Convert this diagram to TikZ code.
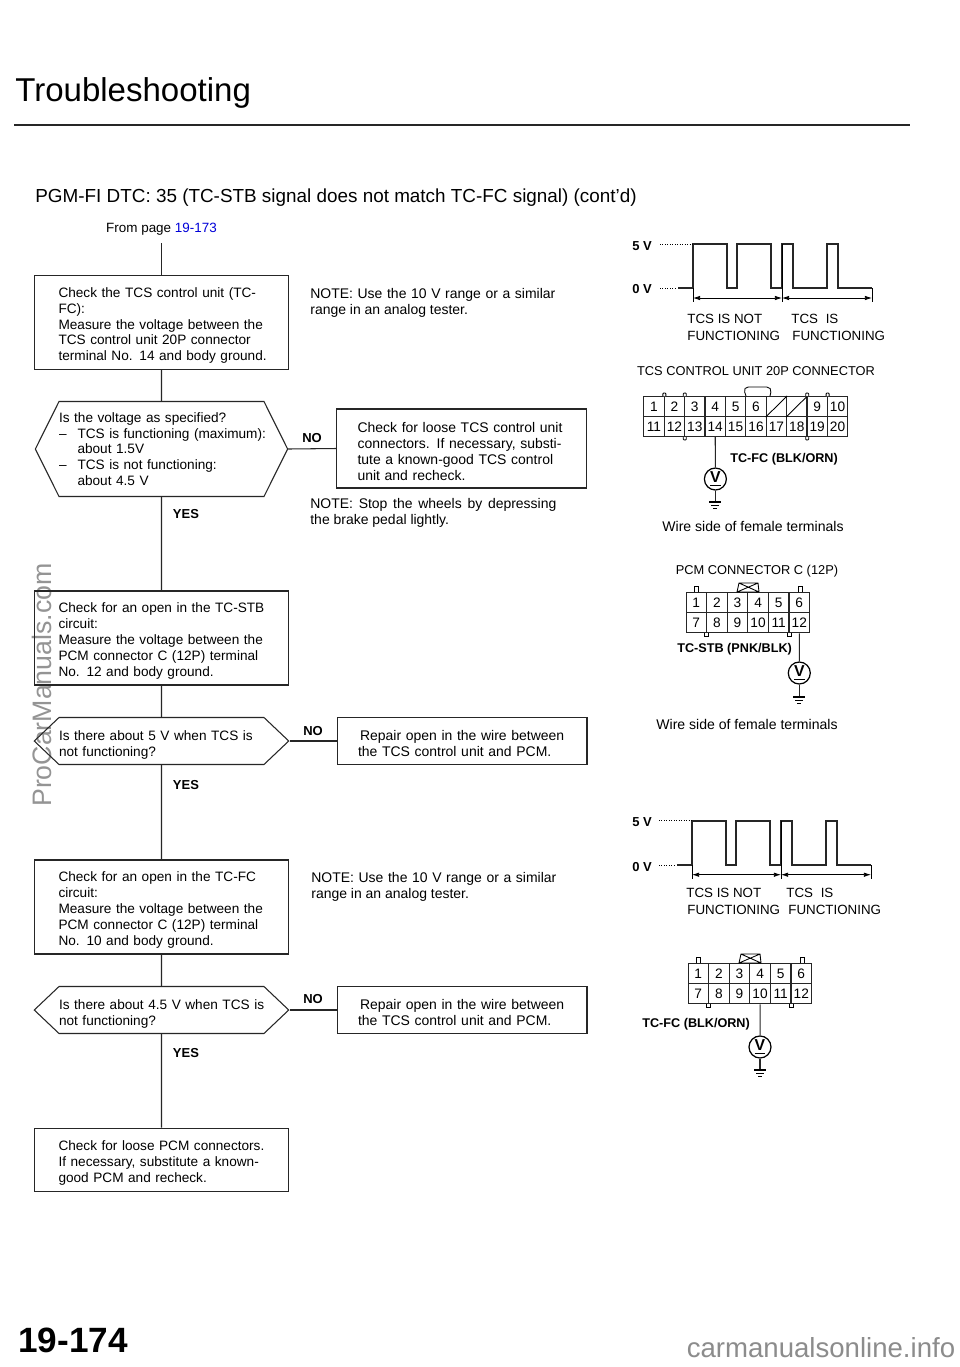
\documentclass[tikz,border=0pt]{standalone}
\usepackage{fontspec}
\setmainfont{Liberation Sans}
\usepackage{tikz}
\usetikzlibrary{shapes.symbols, arrows.meta, positioning}
\newcommand{\bodyfont}{\fontsize{7.75}{9}\selectfont}
\newlength{\pxu}
\setlength{\pxu}{0.02cm}
\newcommand{\jline}[2]{\makebox[#1\pxu][s]{#2}}
\tikzset{
  flowline/.style={line width=0.6pt, black!85},
  leftbox/.style={rectangle, draw=black!85, line width=0.6pt, text width=4.12cm,
                  inner xsep=0.48cm, inner ysep=0pt, minimum height=1.88cm,
                  align=left, font=\bodyfont,
                  execute at begin node={\rule{0pt}{9pt}}},
  rightbox/.style={rectangle, draw=black!85, line width=0.6pt, text width=4.16cm,
                   inner xsep=0.42cm, inner ysep=0pt, minimum height=0.95cm,
                   align=left, font=\fontsize{7.95}{9}\selectfont,
                   execute at begin node={\rule{0pt}{9pt}}},
  askhex/.style={signal, signal to=west and east, draw=black!85, line width=0.6pt,
                 text width=4.1cm, inner xsep=0pt, inner ysep=0pt, minimum height=0.94cm,
                 signal pointer angle=87, align=left, font=\bodyfont},
  notetext/.style={anchor=north west, inner sep=0pt, align=left, font=\fontsize{7.95}{9}\selectfont},
  branchtag/.style={inner sep=0pt, font=\fontsize{7.4}{9}\selectfont\bfseries},
  pincell/.style={rectangle, draw=black!85, line width=0.55pt, minimum width=0.41cm,
                  minimum height=0.405cm, inner sep=0pt, font=\fontsize{7.8}{9}\selectfont},
  meter/.style={circle, draw=black, line width=0.7pt, minimum size=0.44cm, inner sep=0pt,
                font=\fontsize{9}{9}\selectfont\bfseries},
  wavetext/.style={anchor=west, inner sep=0pt, font=\fontsize{7.6}{9}\selectfont},
  wiretag/.style={inner sep=0pt, font=\fontsize{7.2}{9}\selectfont\bfseries},
  grd/.pic={
    \draw[line width=0.6pt] (-6,0) -- (6,0);
    \draw[line width=0.5pt] (-4,3) -- (4,3);
    \draw[line width=0.4pt] (-2,6) -- (2,6);
  },
  pulses/.pic={
    \draw[line width=0.95pt, black!85] (-15,44.3) -- (0,44.3) -- (0,0) -- (34,0) -- (34,44.3)
      -- (44,44.3) -- (44,0) -- (78,0) -- (78,44.3) -- (89,44.3) -- (89,0) -- (100,0)
      -- (100,44.3) -- (134,44.3) -- (134,0) -- (145,0) -- (145,44.3) -- (179,44.3);
    \draw[line width=0.4pt] (0,44.3) -- (0,58);
    \draw[line width=0.4pt] (89,0) -- (89,58);
    \draw[line width=0.4pt] (179,44.3) -- (179,58);
    \draw[line width=0.4pt, {Latex[length=4pt,width=2.5pt]}-{Latex[length=4pt,width=2.5pt]}] (0,54) -- (89,54);
    \draw[line width=0.4pt, {Latex[length=4pt,width=2.5pt]}-{Latex[length=4pt,width=2.5pt]}] (89,54) -- (179,54);
    \draw[line width=0.4pt, densely dotted] (-33,0) -- (-1,0);
    \draw[line width=0.4pt, densely dotted] (-33,44.3) -- (-16,44.3);
  },
}
\begin{document}
\begin{tikzpicture}[x=0.02cm, y=-0.02cm]
  \useasboundingbox[fill=white] (0,0) rectangle (960,1367);

  % watermarks
  \node[rotate=90, inner sep=0pt, text=black!42, font=\fontsize{15.2}{16}\selectfont] (wmleft) at (42,685) {ProCarManuals.com};
  \node[inner sep=0pt, text=black!45, font=\fontsize{15.7}{16}\selectfont] (wmright) at (821,1348) {carmanualsonline.info};

  % page heading
  \node[anchor=west, inner sep=0pt, font=\fontsize{18.8}{22}\selectfont] (heading) at (15,93) {Troubleshooting};
  \draw[line width=1.4pt, black!85] (14,125) -- (910,125);
  \node[anchor=west, inner sep=0pt, font=\fontsize{10.75}{14}\selectfont] (subhead) at (35,198)
    {PGM-FI DTC: 35 (TC-STB signal does not match TC-FC signal) (cont'd)};
  \node[inner sep=0pt, font=\fontsize{7.65}{9}\selectfont] (frompage) at (161.5,229) {From page \textcolor{blue!85!black}{19-173}};
  \coordinate (start) at (161.5,243);

  % left column
  \node[leftbox] (chkfc) at (161.5,322.5)
    {\jline{206}{Check the TCS control unit (TC-}\\FC):\\\jline{206}{Measure the voltage between the}\\\jline{206}{TCS control unit 20P connector}\\\jline{206}{terminal No. 14 and body ground.}};
  \node[askhex, minimum height=1.9cm, signal pointer angle=127] (askv) at (161.5,449)
    {Is the voltage as specified?\\
     \makebox[0.37cm][l]{--}\jline{187}{TCS is functioning (maximum):}\\
     \hspace{0.37cm}about 1.5V\\
     \makebox[0.37cm][l]{--}TCS is not functioning:\\
     \hspace{0.37cm}about 4.5 V};
  \node[leftbox] (chkstb) at (161.5,638)
    {\jline{206}{Check for an open in the TC-STB}\\circuit:\\\jline{206}{Measure the voltage between the}\\\jline{206}{PCM connector C (12P) terminal}\\No. 12 and body ground.};
  \node[askhex] (askstb) at (161.5,741)
    {\rule{0pt}{10pt}\jline{189}{Is there about 5 V when TCS is}\\not functioning?};
  \node[leftbox] (chkfcopen) at (161.5,907)
    {\jline{206}{Check for an open in the TC-FC}\\circuit:\\\jline{206}{Measure the voltage between the}\\\jline{206}{PCM connector C (12P) terminal}\\No. 10 and body ground.};
  \node[askhex] (askfc) at (161.5,1010)
    {\rule{0pt}{10pt}\jline{200}{Is there about 4.5 V when TCS is}\\not functioning?};
  \node[leftbox, minimum height=1.27cm] (chkpcm) at (161.5,1160)
    {\jline{206}{Check for loose PCM connectors.}\\\jline{204}{If necessary, substitute a known-}\\good PCM and recheck.};

  % right column
  \node[rightbox, minimum height=1.58cm] (fixloose) at (461.5,448.5)
    {\jline{208}{Check for loose TCS control unit}\\\jline{208}{connectors. If necessary, substi-}\\\jline{208}{tute a known-good TCS control}\\unit and recheck.};
  \node[rightbox] (fixstb) at (462,741)
    {\hspace{0.04cm}Repair open in the wire between\\\jline{190}{the TCS control unit and PCM.}};
  \node[rightbox] (fixfc) at (462,1010)
    {\hspace{0.04cm}Repair open in the wire between\\\jline{190}{the TCS control unit and PCM.}};

  \node[notetext] (note1) at (310,288) {\jline{245}{NOTE: Use the 10 V range or a similar}\\range in an analog tester.};
  \node[notetext] (note2) at (310,498) {\jline{246}{NOTE: Stop the wheels by depressing}\\the brake pedal lightly.};
  \node[notetext] (note3) at (311,872) {\jline{245}{NOTE: Use the 10 V range or a similar}\\range in an analog tester.};

  \draw[flowline] (start) -- (chkfc);
  \draw[flowline] (chkfc) -- (askv);
  \draw[flowline] (askv) -- (chkstb);
  \draw[flowline] (chkstb) -- (askstb);
  \draw[flowline] (askstb) -- (chkfcopen);
  \draw[flowline] (chkfcopen) -- (askfc);
  \draw[flowline] (askfc) -- (chkpcm);
  \draw[flowline] (askv.east) -- (fixloose.west);
  \draw[flowline] (askstb.east) -- (fixstb.west);
  \draw[flowline] (askfc.east) -- (fixfc.west);

  \node[branchtag] (no1) at (312,438) {NO};
  \node[branchtag] (no2) at (313,731) {NO};
  \node[branchtag] (no3) at (313,999) {NO};
  \node[branchtag] (yes1) at (186,514) {YES};
  \node[branchtag] (yes2) at (186,785) {YES};
  \node[branchtag] (yes3) at (186,1053) {YES};

  % first waveform
  \pic at (693,244) {pulses};
  \node[branchtag, anchor=west] (fivea) at (632,246) {5 V};
  \node[branchtag, anchor=west] (zeroa) at (632,289) {0 V};
  \node[wavetext] (offa) at (687,319) {TCS IS NOT};
  \node[wavetext] (offb) at (687,336) {FUNCTIONING};
  \node[wavetext] (ona) at (791,319) {TCS\hspace{0.08cm} IS};
  \node[wavetext] (onb) at (792,336) {FUNCTIONING};
  \node[inner sep=0pt, font=\fontsize{7.3}{9}\selectfont] (tcsname) at (756,371) {TCS CONTROL UNIT 20P CONNECTOR};

  % 20P connector
  \foreach \lbl [count=\i from 0] in {1,2,3,4,5,6,{},{},9,10}
    \node[pincell] (a\lbl-\i) at ({654+20.4*\i},406.5) {\lbl};
  \foreach \lbl [count=\i from 0] in {11,12,13,14,15,16,17,18,19,20}
    \node[pincell] (a\lbl) at ({654+20.4*\i},426.5) {\lbl};
  \draw[line width=0.5pt] (a-6.south west) -- (a-6.north east);
  \draw[line width=0.5pt] (a-7.south west) -- (a-7.north east);
  \foreach \tx in {664.4,684.8,807.2,827.6}
    \draw[line width=0.5pt, fill=white, rounded corners=0.5pt] (\tx-1.5,396) -- (\tx-1.5,393) -- (\tx+1.5,393) -- (\tx+1.5,396);
  \foreach \tx in {684.8,807.2}
    \draw[line width=0.5pt, fill=white, rounded corners=0.5pt] (\tx-1.5,437) -- (\tx-1.5,440) -- (\tx+1.5,440) -- (\tx+1.5,437);
  \draw[line width=0.5pt, rounded corners=3pt] (746,396) -- (743,387) -- (772,387) -- (770,396);
  \node[wiretag, anchor=west] (fctag) at (730,459) {TC-FC (BLK/ORN)};
  \node[meter] (vma) at (715.4,479) {\underline{V}};
  \coordinate (gnda) at (715.4,502);
  \draw[flowline] (a14) -- (vma);
  \draw[flowline] (vma) -- (gnda);
  \pic at (gnda) {grd};
  \node[inner sep=0pt, font=\fontsize{8}{9}\selectfont] (sidea) at (753,526) {Wire side of female terminals};

  % PCM connector
  \node[inner sep=0pt, font=\fontsize{7.3}{9}\selectfont] (pcmname) at (757,571) {PCM CONNECTOR C (12P)};
  \foreach \lbl [count=\i from 0] in {1,2,3,4,5,6}
    \node[pincell] (b\lbl) at ({696.3+20.6*\i},602.5) {\lbl};
  \foreach \lbl [count=\i from 0] in {7,8,9,10,11,12}
    \node[pincell] (b\lbl) at ({696.3+20.6*\i},622.7) {\lbl};
  \foreach \tx in {696,800}
    \draw[line width=0.5pt, fill=white] (\tx-2,592) -- (\tx-2,586) -- (\tx+2,586) -- (\tx+2,592);
  \foreach \tx in {706.5,789.5}
    \draw[line width=0.5pt, fill=white] (\tx-2,633) -- (\tx-2,636) -- (\tx+2,636) -- (\tx+2,633);
  \draw[line width=0.5pt] (737,592) -- (739,583) -- (758,583) -- (759,592) -- (737,592) -- (739,583) (758,583) -- (737,592) (739,583) -- (759,592);
  \node[wiretag, anchor=west] (stbtag) at (677,649) {TC-STB (PNK/BLK)};
  \node[meter] (vmb) at (799.3,673) {\underline{V}};
  \coordinate (gndb) at (799.3,697);
  \draw[flowline] (b12) -- (vmb);
  \draw[flowline] (vmb) -- (gndb);
  \pic at (gndb) {grd};
  \node[inner sep=0pt, font=\fontsize{8}{9}\selectfont] (sideb) at (747,724) {Wire side of female terminals};

  % second waveform
  \pic at (692,820.7) {pulses};
  \node[branchtag, anchor=west] (fiveb) at (632,822) {5 V};
  \node[branchtag, anchor=west] (zerob) at (632,867) {0 V};
  \node[wavetext] (offc) at (686,893) {TCS IS NOT};
  \node[wavetext] (offd) at (687,910) {FUNCTIONING};
  \node[wavetext] (onc) at (786,893) {TCS\hspace{0.08cm} IS};
  \node[wavetext] (ond) at (788,910) {FUNCTIONING};

  % second 12P connector
  \foreach \lbl [count=\i from 0] in {1,2,3,4,5,6}
    \node[pincell] (c\lbl) at ({698.3+20.6*\i},973.5) {\lbl};
  \foreach \lbl [count=\i from 0] in {7,8,9,10,11,12}
    \node[pincell] (c\lbl) at ({698.3+20.6*\i},993.7) {\lbl};
  \foreach \tx in {698,802}
    \draw[line width=0.5pt, fill=white] (\tx-2,963) -- (\tx-2,957) -- (\tx+2,957) -- (\tx+2,963);
  \foreach \tx in {708.5,791.5}
    \draw[line width=0.5pt, fill=white] (\tx-2,1004) -- (\tx-2,1007) -- (\tx+2,1007) -- (\tx+2,1004);
  \draw[line width=0.5pt] (739,963) -- (741,954) -- (760,954) -- (761,963) -- (739,963) -- (741,954) (760,954) -- (739,963) (741,954) -- (761,963);
  \node[wiretag, anchor=west] (fctagb) at (642,1024) {TC-FC (BLK/ORN)};
  \node[meter] (vmc) at (760,1047) {\underline{V}};
  \coordinate (gndc) at (760,1070);
  \draw[flowline] (c10) -- (vmc);
  \draw[flowline] (vmc) -- (gndc);
  \pic at (gndc) {grd};

  % page number
  \node[anchor=west, inner sep=0pt, font=\fontsize{20}{24}\selectfont\bfseries] (pageno) at (18,1340) {19-174};
\end{tikzpicture}
\end{document}
